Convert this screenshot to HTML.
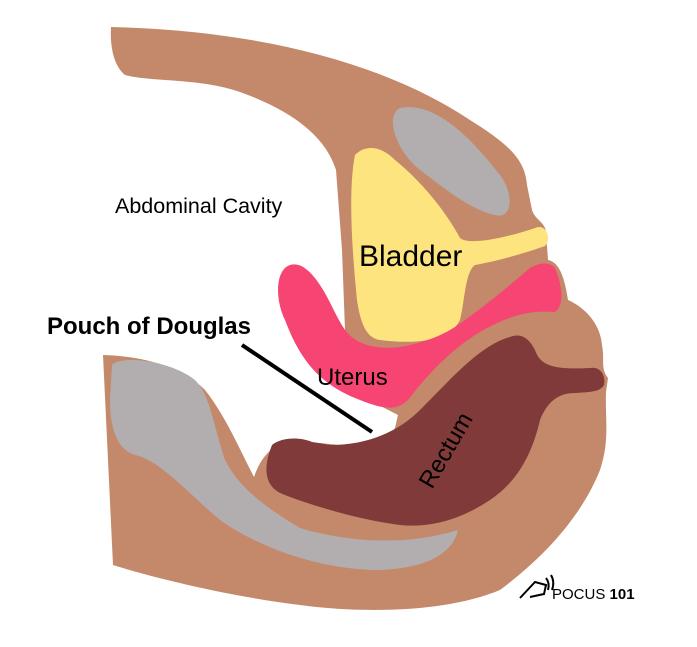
<!DOCTYPE html>
<html><head><style>body{margin:0;background:#fff}svg{display:block}</style></head><body>
<svg width="697" height="647" viewBox="0 0 697 647" xmlns="http://www.w3.org/2000/svg">
<path fill="#c4896a" d="M111,27 C250,30 380,60 470,120 C510,145 525,160 527,185 L532,210 C535,220 545,222 546,232 L548,260 C560,262 565,280 568,300 C580,305 600,320 602,345 C605,360 600,368 608,378 L606,392 C605,420 610,440 600,470 C580,520 540,560 500,590 C440,615 350,612 300,605 C240,598 160,580 113,565 L103,355 C140,356 180,365 205,390 C225,415 240,450 254,477 C265,445 285,438 310,442 L340,445 C370,442 390,438 395,428 L398,415 L330,380 L345,330 L342,250 L336,170 C325,135 290,110 240,92 C200,78 150,82 125,75 C113,65 110,45 111,27 Z"/>
<path fill="#b2aeb0" d="M400,108 C440,100 480,150 500,175 C515,195 512,220 495,215 C470,210 440,185 420,170 C395,150 385,115 400,108 Z"/>
<path fill="#b2aeb0" d="M112,365 C120,355 170,360 195,380 C210,395 212,420 225,460 C240,490 270,510 300,528 C340,540 400,548 458,530 C452,555 425,568 380,570 C320,570 260,548 220,520 C190,495 160,460 135,455 C118,450 110,430 110,400 Z"/>
<path fill="#fde47f" d="M355,155 C365,145 380,145 395,160 C420,180 445,210 460,238 C468,245 500,240 538,227 C548,226 551,240 545,246 C520,255 492,262 475,265 C465,272 465,300 460,320 C450,340 420,345 380,340 C365,338 360,320 357,300 C352,250 348,190 355,155 Z"/>
<path fill="#f64573" d="M290,265 C275,270 275,300 285,320 C300,360 320,385 360,400 C385,410 400,412 412,395 C425,378 450,350 480,332 C510,315 530,310 555,312 C565,305 562,285 555,268 C550,262 540,262 530,268 C510,285 490,302 465,320 C445,335 430,340 410,345 C390,350 360,350 345,330 C335,315 330,300 320,285 C310,270 300,262 290,265 Z"/>
<path fill="#7f3a39" d="M272,445 C282,437 300,437 312,442 L330,445 C370,445 400,430 420,410 C450,380 480,345 510,337 C522,332 530,340 535,350 C540,365 552,370 590,368 C600,366 606,375 604,385 C600,392 590,392 575,393 C560,393 548,400 540,420 C533,450 520,480 490,500 C460,520 430,528 400,525 C360,520 310,505 285,495 C265,488 262,470 272,445 Z"/>
<line x1="242" y1="345" x2="372" y2="432" stroke="#000" stroke-width="4"/>
<g font-family="Liberation Sans, sans-serif">
<text x="115" y="213" font-size="21.5">Abdominal Cavity</text>
<text x="359" y="266" font-size="30">Bladder</text>
<text x="317" y="385" font-size="24">Uterus</text>
<text x="0" y="0" font-size="24" transform="translate(432,490) rotate(-60)">Rectum</text>
<text x="47" y="334" font-size="24" font-weight="bold">Pouch of Douglas</text>
<text x="552" y="599" font-size="15">POCUS <tspan font-weight="bold">101</tspan></text>
</g>
<g fill="none" stroke="#000" stroke-width="2">
<path d="M520,598 L535,582 L546,585 L544,594 L530,597"/>
<path d="M546,578 Q550,583 548,590"/><path d="M551,575 Q555,582 552,590"/>
</g>
</svg>
</body></html>
